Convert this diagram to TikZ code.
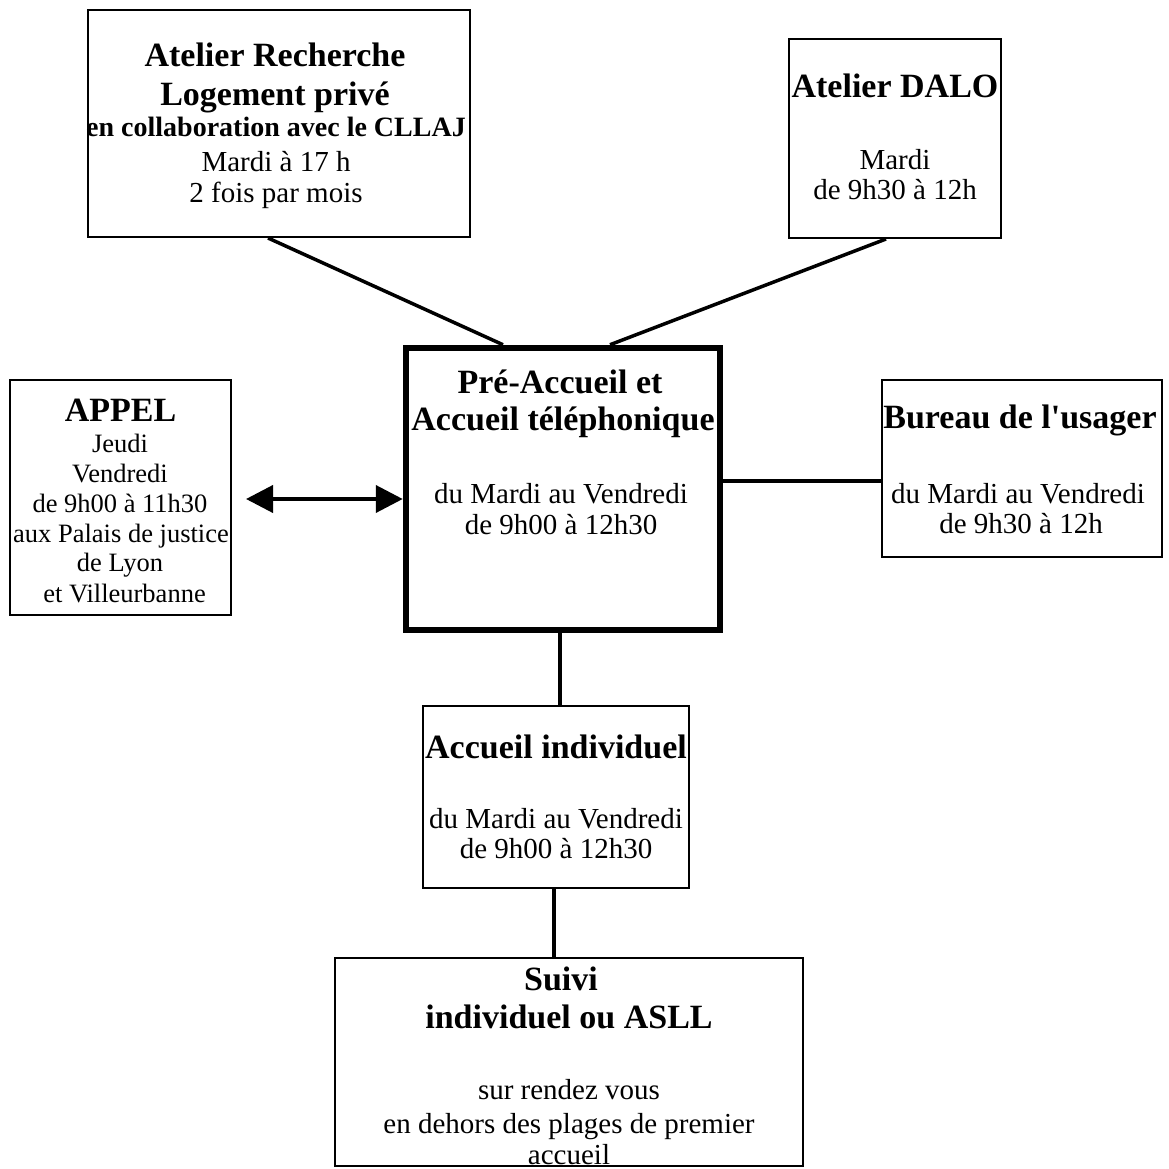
\documentclass[tikz,border=0pt]{standalone}
\usepackage{fontspec}
\setmainfont{Liberation Serif}[Ligatures=TeXOff]
\usetikzlibrary{arrows.meta}
\begin{document}
\begin{tikzpicture}[x=1pt,y=-1pt,
  box/.style={draw, line width=2pt, inner sep=0pt, rectangle},
  mainbox/.style={draw, line width=6.5pt, inner sep=0pt, rectangle},
  link/.style={line width=3.5pt},
  dbl/.style={line width=4pt, {Triangle[length=27pt,width=27pt]}-{Triangle[length=27pt,width=27pt]}},
  ttl/.style={font=\fontsize{34}{38}\selectfont\bfseries, anchor=base, inner sep=0pt},
  sub/.style={font=\fontsize{28}{31}\selectfont\bfseries, anchor=base, inner sep=0pt},
  txt/.style={font=\fontsize{29}{31}\selectfont, anchor=base, inner sep=0pt},
  stxt/.style={font=\fontsize{26.5}{30}\selectfont, anchor=base, inner sep=0pt}]
\useasboundingbox (0,0) rectangle (1168,1169);

% boxes
\node[box, minimum width=382pt, minimum height=227pt] (b1) at (279,123.5) {};
\node[box, minimum width=212pt, minimum height=199pt] (dalo) at (895,138.5) {};
\node[mainbox, minimum width=314pt, minimum height=282pt] (pre) at (563,489) {};
\node[box, minimum width=221pt, minimum height=235pt] (appel) at (120.5,497.5) {};
\node[box, minimum width=280pt, minimum height=177pt] (bur) at (1022,468.5) {};
\node[box, minimum width=266pt, minimum height=182pt] (ind) at (556,797) {};
\node[box, minimum width=468pt, minimum height=208pt] (sui) at (569,1062) {};

% texts: Atelier Recherche
\node[ttl] (b1t1) at (275,67) {Atelier Recherche};
\node[ttl] (b1t2) at (275,106) {Logement privé};
\node[sub] (b1t3) at (276,137) {en collaboration avec le CLLAJ};
\node[txt] (b1t4) at (276,172) {Mardi à 17 h};
\node[txt] (b1t5) at (276,203) {2 fois par mois};

% DALO
\node[ttl] (dat1) at (895,98) {Atelier DALO};
\node[txt] (dat2) at (895,170) {Mardi};
\node[txt] (dat3) at (895,200) {de 9h30 à 12h};

% central
\node[ttl] (pret1) at (560,393) {Pré-Accueil et};
\node[ttl] (pret2) at (563,430) {Accueil téléphonique};
\node[txt] (pret3) at (561,503) {du Mardi au Vendredi};
\node[txt] (pret4) at (561,534) {de 9h00 à 12h30};

% APPEL
\node[ttl] (apt1) at (120.5,421) {APPEL};
\node[stxt] (apt2) at (120,452) {Jeudi};
\node[stxt] (apt3) at (120,482) {Vendredi};
\node[stxt] (apt4) at (120,512) {de 9h00 à 11h30};
\node[stxt] (apt5) at (121,542) {aux Palais de justice};
\node[stxt] (apt6) at (120,571) {de Lyon};
\node[stxt] (apt7) at (124.5,602) {et Villeurbanne};

% Bureau
\node[ttl] (but1) at (1020,428) {Bureau de l'usager};
\node[txt] (but2) at (1018,503) {du Mardi au Vendredi};
\node[txt] (but3) at (1021,533) {de 9h30 à 12h};

% Accueil individuel
\node[ttl] (int1) at (556,758) {Accueil individuel};
\node[txt] (int2) at (556,828) {du Mardi au Vendredi};
\node[txt] (int3) at (556,858) {de 9h00 à 12h30};

% Suivi
\node[ttl] (sut1) at (561,990) {Suivi};
\node[ttl] (sut2) at (569,1028) {individuel ou ASLL};
\node[txt] (sut3) at (569,1099) {sur rendez vous};
\node[txt] (sut4) at (569,1133) {en dehors des plages de premier};
\node[txt] (sut5) at (569,1164) {accueil};

% connectors
\draw[link] ([xshift=-11pt]b1.south) -- ([xshift=-60pt]pre.north);
\draw[link] ([xshift=-9pt]dalo.south) -- ([xshift=47pt]pre.north);
\draw[link] ([yshift=8pt]pre.east) -- ([yshift=8pt]pre.east -| bur.west);
\draw[link] ([xshift=-3pt]pre.south) -- ([xshift=-3pt]pre.south |- ind.north);
\draw[link] ([xshift=-2pt]ind.south) -- ([xshift=-2pt]ind.south |- sui.north);
\coordinate (arrL) at (246,499);
\draw[dbl] (arrL) -- (pre.west |- arrL);
\end{tikzpicture}
\end{document}
